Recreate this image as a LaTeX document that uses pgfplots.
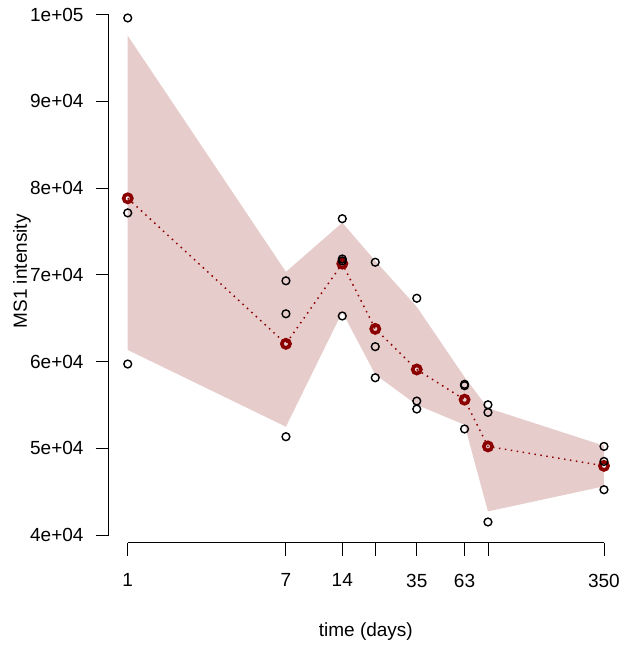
\documentclass[border=0pt]{standalone}
\usepackage{pgfplots}
\pgfplotsset{compat=1.18}
\usepackage{fontspec}
\setmainfont{Liberation Sans}
\definecolor{dred}{RGB}{139,0,0}
\definecolor{bandcol}{RGB}{231,204,204}
\begin{document}
\begin{tikzpicture}
\useasboundingbox (-108.7pt,-110.3pt) rectangle (516.3pt,542.7pt);
\begin{axis}[
  at={(0,0)}, anchor=south west, scale only axis,
  width=514.3pt, height=542.7pt,
  xmode=log, xmin=0.7913, xmax=442.3, ymin=39112, ymax=101670,
  axis x line*=bottom, axis y line*=left, axis line style={draw=none},
  tick align=outside, major tick length=13pt,
  tick style={black, line width=0.9pt},
  xminorticks=false, yminorticks=false,
  xtick={1,7,14,21,35,63,84,350},
  xticklabels={1,7,14,,35,63,,350},
  ytick={40000,50000,60000,70000,80000,90000,100000},
  yticklabels={4e+04,5e+04,6e+04,7e+04,8e+04,9e+04,1e+05},
  every tick label/.append style={font=\fontsize{19}{23}\selectfont},
  xticklabel style={anchor=north, inner sep=0pt, yshift=-18pt},
  yticklabel style={anchor=east, inner sep=0pt, xshift=-12pt},
  xlabel={time (days)}, ylabel={MS1 intensity},
  every axis x label/.style={at={(axis description cs:0.5,0)}, anchor=center, yshift=-89pt, font=\fontsize{19}{23}\selectfont},
  every axis y label/.style={at={(axis description cs:-0.1686,0.5)}, anchor=center, rotate=90, font=\fontsize{19}{23}\selectfont},
  clip=false,
]
% band (upper forward, lower backward)
\addplot[draw=none, fill=bandcol] coordinates {
  (1,97550) (7,70330) (14,76000) (21,71600) (35,66300) (63,58200) (84,54630) (350,50290)
  (350,45610) (84,42720) (63,52700) (35,55000) (21,58500) (14,65700) (7,52480) (1,61330)
} -- cycle;
% mean line
\addplot[dred, line width=1.5pt, dash pattern=on 1.5pt off 4.5pt] coordinates {
  (1,78810) (7,62040) (14,71280) (21,63760) (35,59080) (63,55600) (84,50210) (350,47970)
};
% mean points
\addplot[only marks, mark=o, mark size=4.1pt, mark options={dred, line width=3.6pt}] coordinates {
  (1,78810) (7,62040) (14,71280) (21,63760) (35,59080) (63,55600) (84,50210) (350,47970)
};
% replicate points
\addplot[only marks, mark=o, mark size=3.9pt, mark options={black, line width=1.4pt}] coordinates {
  (1,99600) (1,77130) (1,59710)
  (7,69300) (7,65500) (7,51330)
  (14,76460) (14,71820) (14,71600) (14,65245)
  (21,71440) (21,61710) (21,58130)
  (35,67290) (35,55440) (35,54520)
  (63,57370) (63,57210) (63,52220)
  (84,55010) (84,54130) (84,41500)
  (350,50210) (350,48480) (350,45220)
};
\draw[line width=0.9pt] (axis cs:1,39112) -- (axis cs:350,39112);
\draw[line width=0.9pt] (axis cs:0.7913,40000) -- (axis cs:0.7913,100000);
\end{axis}
\end{tikzpicture}
\end{document}
